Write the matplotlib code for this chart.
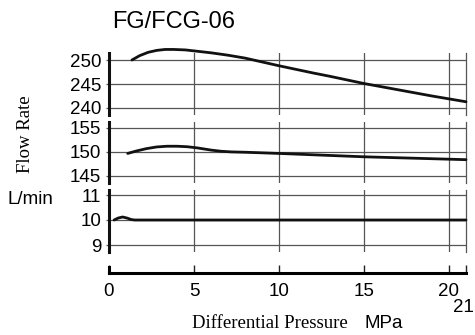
import matplotlib
matplotlib.use("Agg")
import matplotlib.pyplot as plt

# Kennlinien FG/FCG-06
top_x = [1.35, 1.8, 2.3, 2.8, 3.3, 3.8, 4.5, 5.0, 6.0, 7.0, 8.0, 9.0, 10.0, 12.0, 13.0, 15.0, 17.0, 19.0, 20.0, 21.0]
top_y = [250.0, 250.9, 251.6, 252.0, 252.2, 252.2, 252.1, 251.9, 251.5, 251.0, 250.4, 249.6, 248.8, 247.3, 246.6, 245.1, 243.8, 242.5, 241.9, 241.3]

mid_x = [1.1, 1.6, 2.2, 2.8, 3.4, 4.0, 4.6, 5.2, 6.0, 6.6, 7.2, 8.0, 10.0, 15.0, 21.0]
mid_y = [149.7, 150.2, 150.7, 151.05, 151.2, 151.2, 151.1, 150.85, 150.4, 150.15, 150.02, 149.95, 149.7, 149.0, 148.4]

bot_x = [0.3, 0.55, 0.8, 1.05, 1.3, 1.5, 21.0]
bot_y = [10.0, 10.08, 10.12, 10.08, 10.02, 10.0, 10.0]

top_ticks = [240, 245, 250]
mid_ticks = [145, 150, 155]
bot_ticks = [9, 10, 11]
x_ticks = [0, 5, 10, 15, 20]

SANS = "Liberation Sans"
SERIF = "Liberation Serif"
GRID = "#555555"
FS = 13.5

fig = plt.figure(figsize=(4.75, 3.35), dpi=100)
W, H = 475, 335


def panel(y_top, y_bot):
    return fig.add_axes([109 / W, 1 - y_bot / H, 357 / W, (y_bot - y_top) / H])


panels = [
    (panel(53, 115), top_x, top_y, top_ticks, (238.54, 251.46)),
    (panel(122, 183), mid_x, mid_y, mid_ticks, (143.54, 156.25)),
    (panel(190, 252), bot_x, bot_y, bot_ticks, (8.72, 11.2)),
]

for ax, xs, ys, ticks, lim in panels:
    ax.plot(xs, ys, color="#111111", linewidth=2.0, solid_capstyle="round",
            zorder=3, clip_on=False)
    ax.set_xlim(0, 21)
    ax.set_ylim(*lim)
    ax.set_yticks(ticks)
    ax.set_yticklabels([str(t) for t in ticks], fontfamily=SANS, fontsize=FS)
    ax.set_xticks(x_ticks[1:])
    ax.tick_params(axis="x", length=0, labelbottom=False)
    ax.tick_params(axis="y", length=2.5, width=0.9, color=GRID, pad=3)
    ax.grid(True, color=GRID, linewidth=0.9)
    ax.spines["top"].set_visible(False)
    ax.spines["bottom"].set_visible(False)
    ax.spines["left"].set_linewidth(2.2)
    ax.spines["left"].set_color("#111111")
    ax.spines["right"].set_linewidth(0.9)
    ax.spines["right"].set_color(GRID)
    ax.patch.set_alpha(0)

# x-Achse als eigener Streifen
axx = fig.add_axes([109 / W, 1 - 273 / H, 357 / W, 6 / H])
axx.set_xlim(0, 21)
axx.set_ylim(0, 1)
axx.set_yticks([])
axx.set_xticks(x_ticks + [21])
axx.set_xticklabels([str(t) for t in x_ticks] + [""], fontfamily=SANS, fontsize=FS)
axx.tick_params(axis="x", direction="in", length=6, width=1.0, color="#222222", pad=7)
axx.spines["top"].set_visible(False)
axx.spines["right"].set_visible(False)
axx.spines["bottom"].set_linewidth(2.2)
axx.spines["left"].set_linewidth(2.2)
axx.patch.set_alpha(0)

# Beschriftungen
fig.text(463 / W, 1 - 308 / H, "21", ha="center", va="center",
         fontfamily=SANS, fontsize=FS)
fig.text(174 / W, 1 - 22 / H, "FG/FCG-06", ha="center", va="center",
         fontfamily=SANS, fontsize=17)
fig.text(26 / W, 1 - 134 / H, "Flow Rate", ha="center", va="center",
         rotation=90, fontfamily=SERIF, fontsize=FS)
fig.text(30 / W, 1 - 199 / H, "L/min", ha="center", va="center",
         fontfamily=SANS, fontsize=FS)
fig.text(270 / W, 1 - 324 / H, "Differential Pressure", ha="center", va="center",
         fontfamily=SERIF, fontsize=FS)
fig.text(384 / W, 1 - 323 / H, "MPa", ha="center", va="center",
         fontfamily=SANS, fontsize=FS)

fig.savefig("out.png", dpi=100)
